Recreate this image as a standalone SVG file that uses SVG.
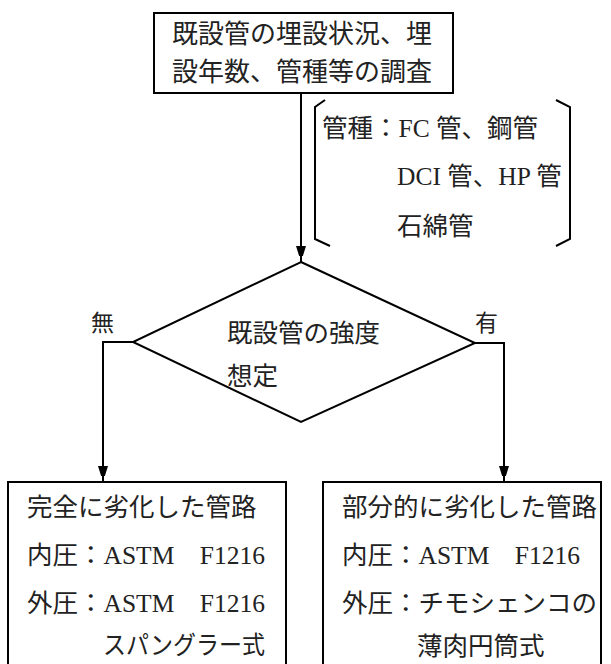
<svg xmlns="http://www.w3.org/2000/svg" width="611" height="664" viewBox="0 0 611 664">
  <style>
    .shape { fill: #ffffff; stroke: #000000; stroke-width: 2; }
    .line { fill: none; stroke: #000000; stroke-width: 2; }
    .txt { font-family: "Liberation Serif", "Noto Sans CJK JP", serif; font-size: 25.5px; fill: #222222; }
  </style>
  <defs>
    <marker id="arrow" markerUnits="userSpaceOnUse" markerWidth="10" markerHeight="16" viewBox="0 0 10 16" refX="16" refY="5" orient="auto">
      <path d="M0,0 L16,5 L0,10 Z" fill="#000000"/>
    </marker>
  </defs>
  <rect width="611" height="664" fill="#ffffff"/>

  <g id="connectors">
    <path class="line" d="M301,93 V262" marker-end="url(#arrow)"/>
    <path class="line" d="M133,342 H103 V482" marker-end="url(#arrow)"/>
    <path class="line" d="M475,343 H504 V482" marker-end="url(#arrow)"/>
  </g>

  <g id="survey">
    <rect class="shape" x="154" y="13" width="299" height="80"/>
    <text class="txt" x="172" y="43" style="font-size:26px">既設管の埋設状況、埋</text>
    <text class="txt" x="172" y="81" style="font-size:26px">設年数、管種等の調査</text>
  </g>

  <g id="pipe-types">
    <path class="line" d="M325,100 L315,107 V239 L330,246"/>
    <path class="line" d="M556,100 L570,107 V239 L556,246"/>
    <text class="txt" x="322" y="137">管種：FC 管、鋼管</text>
    <text class="txt" x="397" y="185">DCI 管、HP 管</text>
    <text class="txt" x="397" y="235">石綿管</text>
  </g>

  <g id="decision">
    <polygon class="shape" points="301,262 475,343 301,422 133,342"/>
    <text class="txt" x="227" y="342">既設管の強度</text>
    <text class="txt" x="227" y="385">想定</text>
  </g>

  <g id="label-no">
    <text class="txt" x="91" y="331" style="font-size:23px">無</text>
  </g>
  <g id="label-yes">
    <text class="txt" x="475" y="331" style="font-size:23px">有</text>
  </g>

  <g id="full-deterioration">
    <rect class="shape" x="8" y="482" width="278" height="200"/>
    <text class="txt" x="27" y="516">完全に劣化した管路</text>
    <text class="txt" x="27" y="564">内圧：ASTM　F1216</text>
    <text class="txt" x="27" y="612">外圧：ASTM　F1216</text>
    <text class="txt" x="103" y="654" textLength="162" lengthAdjust="spacingAndGlyphs">スパングラー式</text>
  </g>

  <g id="partial-deterioration">
    <rect class="shape" x="323" y="482" width="278" height="200"/>
    <text class="txt" x="342" y="516">部分的に劣化した管路</text>
    <text class="txt" x="342" y="564">内圧：ASTM　F1216</text>
    <text class="txt" x="342" y="612">外圧：チモシェンコの</text>
    <text class="txt" x="417" y="655">薄肉円筒式</text>
  </g>
</svg>
